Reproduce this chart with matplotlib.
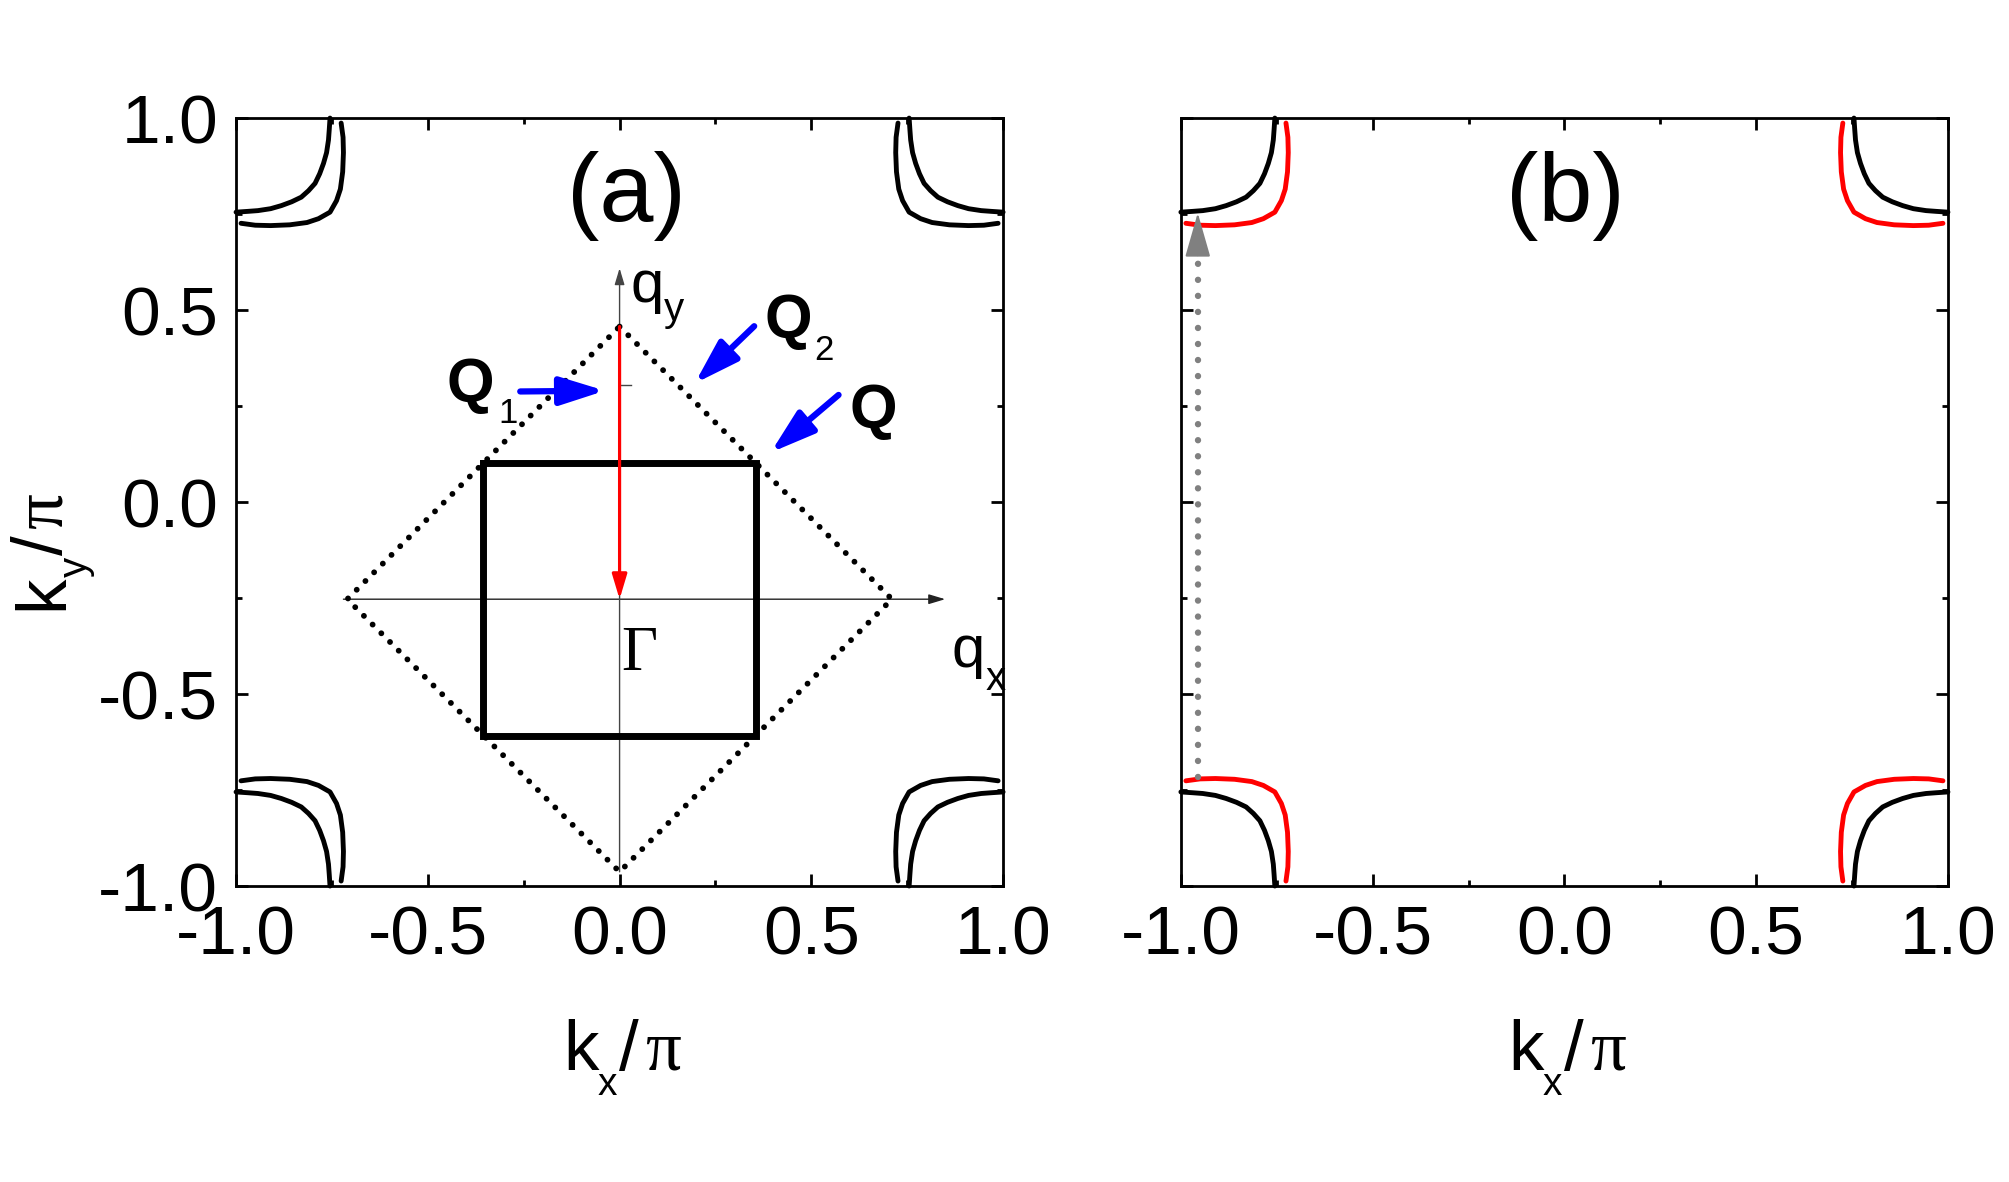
import matplotlib
matplotlib.use('Agg')
import matplotlib.pyplot as plt
from matplotlib.patches import FancyArrowPatch
from matplotlib.ticker import FixedLocator, MultipleLocator
import numpy as np

plt.rcParams['font.family'] = ['Liberation Sans', 'DejaVu Sans']
plt.rcParams['axes.unicode_minus'] = False

SERIF = ['Liberation Serif', 'DejaVu Serif']

# ---------------- data ----------------
tick_values = [-1.0, -0.5, 0.0, 0.5, 1.0]
tick_labels = ['-1.0', '-0.5', '0.0', '0.5', '1.0']

# Fermi-surface pockets, distance from the zone corner (read from top-left corner)
outer_dx = [0.245, 0.243, 0.241, 0.236, 0.228, 0.218, 0.206, 0.189, 0.170, 0.145, 0.118, 0.090, 0.057, 0.030, 0.000]
outer_dy = [0.000, 0.030, 0.057, 0.090, 0.118, 0.145, 0.170, 0.189, 0.206, 0.218, 0.228, 0.236, 0.241, 0.243, 0.245]
inner_dx = [0.274, 0.279, 0.280, 0.278, 0.272, 0.262, 0.245, 0.215, 0.185, 0.140, 0.090, 0.050, 0.013]
inner_dy = [0.013, 0.050, 0.090, 0.140, 0.185, 0.215, 0.245, 0.262, 0.272, 0.278, 0.280, 0.279, 0.274]
corner_sx = [-1, 1, -1, 1]
corner_sy = [1, 1, -1, -1]

# reduced zone (dotted diamond) and square, centred on Gamma
diamond_x = [0.0, 0.71, 0.0, -0.71, 0.0]
diamond_y = [0.457, -0.253, -0.963, -0.253, 0.457]
square_x = [-0.355, 0.355, 0.355, -0.355, -0.355]
square_y = [0.102, 0.102, -0.608, -0.608, 0.102]

# q axes
qx_axis_x = [-0.72, 0.849]
qx_axis_y = [-0.253, -0.253]
qy_axis_x = [0.0, 0.0]
qy_axis_y = [-0.963, 0.609]
qy_tick_x = [0.0, 0.03]
qy_tick_y = [0.305, 0.305]

# red Q vector
red_arrow_start = (0.0, 0.457)
red_arrow_end = (0.0, -0.253)

# blue pointer arrows (tail, tip)
blue_tails = [(-0.259, 0.288), (0.351, 0.458), (0.571, 0.279)]
blue_tips = [(-0.038, 0.290), (0.196, 0.309), (0.394, 0.129)]

# labels in panel a: (main text, x, y, subscript, sub x, sub y)
q_labels = [
    ('Q', -0.450, 0.263, '1', -0.316, 0.206),
    ('Q', 0.378, 0.430, '2', 0.507, 0.370),
    ('Q', 0.599, 0.195, '', 0.0, 0.0),
]
axis_q_labels = [
    ('q', 0.028, 0.521, 'y', 0.116, 0.471),
    ('q', 0.865, -0.430, 'x', 0.953, -0.490),
]

# gray nesting arrow in panel b
gray_x = -0.956
gray_y_start = -0.715
gray_y_head_base = 0.643
gray_y_tip = 0.753

# ---------------- figure ----------------
W, H = 2009, 1182
fig = plt.figure(figsize=(W / 100, H / 100), dpi=100)
ax_a = fig.add_axes([0.1175, 0.2504, 0.3818, 0.6497])
ax_b = fig.add_axes([0.5878, 0.2504, 0.3818, 0.6497])


def style_axes(ax, show_ylabels):
    ax.set_xlim(-1, 1)
    ax.set_ylim(-1, 1)
    for sp in ax.spines.values():
        sp.set_linewidth(2.0)
    ax.xaxis.set_major_locator(FixedLocator(tick_values))
    ax.yaxis.set_major_locator(FixedLocator(tick_values))
    ax.set_xticklabels(tick_labels)
    ax.set_yticklabels(tick_labels)
    ax.xaxis.set_minor_locator(MultipleLocator(0.25))
    ax.yaxis.set_minor_locator(MultipleLocator(0.25))
    ax.tick_params(which='both', direction='in', top=True, right=True, width=2.0)
    ax.tick_params(which='major', length=8.6, labelsize=50, pad=13)
    ax.tick_params(which='minor', length=4.3)
    if not show_ylabels:
        ax.tick_params(labelleft=False)


style_axes(ax_a, True)
style_axes(ax_b, False)

odx = np.array(outer_dx)
ody = np.array(outer_dy)
idx = np.array(inner_dx)
idy = np.array(inner_dy)

CURVE_LW = 3.5
for sx, sy in zip(corner_sx, corner_sy):
    ax_a.plot(sx * (1 - odx), sy * (1 - ody), color='black', lw=CURVE_LW,
              solid_capstyle='round', zorder=3, clip_on=False)
    ax_a.plot(sx * (1 - idx), sy * (1 - idy), color='black', lw=CURVE_LW,
              solid_capstyle='round', zorder=3, clip_on=False)
    ax_b.plot(sx * (1 - odx), sy * (1 - ody), color='black', lw=CURVE_LW,
              solid_capstyle='round', zorder=3, clip_on=False)
    ax_b.plot(sx * (1 - idx), sy * (1 - idy), color='#ff0000', lw=CURVE_LW,
              solid_capstyle='round', zorder=3, clip_on=False)

# dotted diamond
ax_a.plot(diamond_x, diamond_y, color='black', lw=4.2,
          linestyle=(0, (0.01, 2.1)), dash_capstyle='round', zorder=2)
# square
ax_a.plot(square_x, square_y, color='black', lw=5.0,
          solid_joinstyle='miter', zorder=2)

# q axes with arrows
ax_a.add_patch(FancyArrowPatch((qx_axis_x[0], qx_axis_y[0]), (qx_axis_x[1], qx_axis_y[1]),
                               arrowstyle='-|>,head_length=10,head_width=3', mutation_scale=1,
                               color='#222222', lw=1.0, shrinkA=0, shrinkB=0, zorder=1))
ax_a.add_patch(FancyArrowPatch((qy_axis_x[0], qy_axis_y[0]), (qy_axis_x[1], qy_axis_y[1]),
                               arrowstyle='-|>,head_length=10,head_width=3', mutation_scale=1,
                               color='#444444', lw=1.0, shrinkA=0, shrinkB=0, zorder=1))
ax_a.plot(qy_tick_x, qy_tick_y, color='#444444', lw=1.0, zorder=1)

# red arrow
ax_a.add_patch(FancyArrowPatch(red_arrow_start, red_arrow_end,
                               arrowstyle='-|>,head_length=15,head_width=4.5', mutation_scale=1,
                               color='#ff0000', lw=2.3, shrinkA=0, shrinkB=0, zorder=4))

# blue arrows
for tail, tip in zip(blue_tails, blue_tips):
    ax_a.add_patch(FancyArrowPatch(tail, tip,
                                   arrowstyle='-|>,head_length=27,head_width=8.5', mutation_scale=1,
                                   color='#0000ff', lw=4.5, shrinkA=0, shrinkB=0,
                                   capstyle='round', joinstyle='round', zorder=5))

# Q labels (bold) with subscripts
for main, x, y, sub, sxp, syp in q_labels:
    ax_a.text(x, y, main, fontsize=44, fontweight='bold', ha='left', va='baseline', zorder=6)
    if sub:
        ax_a.text(sxp, syp, sub, fontsize=25, ha='left', va='baseline', zorder=6)

# q_x, q_y labels
for main, x, y, sub, sxp, syp in axis_q_labels:
    ax_a.text(x, y, main, fontsize=43, ha='left', va='baseline', zorder=6, clip_on=False)
    ax_a.text(sxp, syp, sub, fontsize=29, ha='left', va='baseline', zorder=6, clip_on=False)

# Gamma
ax_a.text(0.004, -0.4375, '\u0393', fontsize=45, ha='left', va='baseline', family=SERIF)

# panel labels
ax_a.text(0.017, 0.797, '(a)', fontsize=70, ha='center', va='center')
ax_b.text(0.003, 0.797, '(b)', fontsize=70, ha='center', va='center')

# gray dotted nesting arrow in panel b
ax_b.plot([gray_x, gray_x], [gray_y_start, gray_y_head_base - 0.02], color='#808080', lw=4.6,
          linestyle=(0, (0.01, 2.5)), dash_capstyle='round', zorder=4)
ax_b.add_patch(FancyArrowPatch((gray_x, gray_y_head_base), (gray_x, gray_y_tip),
                               arrowstyle='-|>,head_length=28,head_width=8', mutation_scale=1,
                               color='#808080', lw=1.5, shrinkA=0, shrinkB=0,
                               joinstyle='round', zorder=5))


# axis labels built from pieces: k, subscript, '/', pi  (positions in pixels)
def px(x, y):
    return x / W, 1 - y / H


def xlabel_at(x0, base):
    fig.text(*px(x0, base), 'k', fontsize=51, ha='left', va='baseline')
    fig.text(*px(x0 + 35, base + 25), 'x', fontsize=28, ha='left', va='baseline')
    fig.text(*px(x0 + 56, base), '/', fontsize=51, ha='left', va='baseline')
    fig.text(*px(x0 + 82, base), '\u03c0', fontsize=51, ha='left', va='baseline', family=SERIF)


xlabel_at(563, 1070)
xlabel_at(563 + 945, 1070)

# rotated y label (text reads upward)
yb, y0 = 62, 610
kw = dict(rotation=90, rotation_mode='anchor', ha='left', va='baseline')
fig.text(*px(yb, y0), 'k', fontsize=51, **kw)
fig.text(*px(yb + 25, y0 - 33), 'y', fontsize=29, **kw)
fig.text(*px(yb, y0 - 55), '/', fontsize=51, **kw)
fig.text(*px(yb, y0 - 81), '\u03c0', fontsize=51, family=SERIF, **kw)

fig.savefig('out.png', dpi=100)
